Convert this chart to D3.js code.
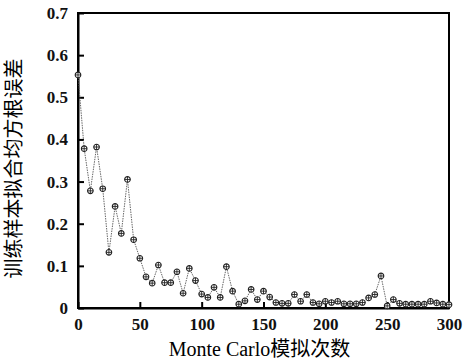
<!DOCTYPE html>
<html>
<head>
<meta charset="utf-8">
<script src="https://cdn.jsdelivr.net/npm/d3@7"></script>
<style>
  body { margin: 0; background: #fff; }
  svg { display: block; }
</style>
</head>
<body>
<svg width="468" height="362"></svg>
<script>
// Monte Carlo run index (every 5 runs) and training RMSE
var runs = [0, 5, 10, 15, 20, 25, 30, 35, 40, 45, 50, 55, 60, 65, 70, 75, 80, 85, 90, 95,
            100, 105, 110, 115, 120, 125, 130, 135, 140, 145, 150, 155, 160, 165, 170, 175, 180, 185, 190, 195,
            200, 205, 210, 215, 220, 225, 230, 235, 240, 245, 250, 255, 260, 265, 270, 275, 280, 285, 290, 295, 300];
var rmse = [0.553, 0.378, 0.278, 0.382, 0.283, 0.132, 0.241, 0.177, 0.305, 0.162,
            0.118, 0.074, 0.059, 0.102, 0.060, 0.060, 0.086, 0.035, 0.094, 0.065,
            0.033, 0.025, 0.049, 0.025, 0.098, 0.040, 0.009, 0.017, 0.044, 0.020,
            0.040, 0.026, 0.013, 0.011, 0.011, 0.032, 0.016, 0.032, 0.013, 0.010,
            0.016, 0.013, 0.016, 0.010, 0.010, 0.010, 0.013, 0.024, 0.032, 0.076,
            0.005, 0.020, 0.011, 0.009, 0.009, 0.009, 0.009, 0.016, 0.012, 0.009, 0.008];
var xTicks = [0, 50, 100, 150, 200, 250, 300];
var yTicks = [0, 0.1, 0.2, 0.3, 0.4, 0.5, 0.6, 0.7];

var svg = d3.select("svg"),
    margin = {top: 13, right: 19, bottom: 54, left: 78},
    width = 468 - margin.left - margin.right,
    height = 362 - margin.top - margin.bottom;

var serif = "'Liberation Serif', 'Times New Roman', 'Noto Sans CJK SC', serif";

var x = d3.scaleLinear().domain([0, 300]).range([0, width]);
var y = d3.scaleLinear().domain([0, 0.7]).range([height, 0]);

var g = svg.append("g")
    .attr("transform", "translate(" + margin.left + "," + margin.top + ")");

// frame
g.append("rect")
    .attr("width", width)
    .attr("height", height)
    .attr("fill", "none")
    .attr("stroke", "#000")
    .attr("stroke-width", 2);

var xAxis = g.append("g")
    .attr("transform", "translate(0," + height + ")")
    .call(d3.axisBottom(x).tickValues(xTicks).tickSizeInner(-6).tickSizeOuter(0).tickPadding(10)
      .tickFormat(d3.format("d")));

var yAxis = g.append("g")
    .call(d3.axisLeft(y).tickValues(yTicks).tickSizeInner(-6).tickSizeOuter(0).tickPadding(10)
      .tickFormat(function(d) { return d === 0 ? "0" : d3.format(".1f")(d); }));

[xAxis, yAxis].forEach(function(a) {
  a.select(".domain").attr("stroke-width", 2);
  a.selectAll(".tick line").attr("stroke-width", 2);
  a.selectAll("text")
      .attr("font-family", serif)
      .attr("font-size", 17)
      .attr("font-weight", "bold")
      .attr("fill", "#111");
});

var line = d3.line()
    .x(function(d, i) { return x(runs[i]); })
    .y(function(d) { return y(d); });

g.append("path")
    .datum(rmse)
    .attr("fill", "none")
    .attr("stroke", "#555")
    .attr("stroke-width", 0.9)
    .attr("stroke-dasharray", "1.5,1")
    .attr("d", line);

var marker = g.append("g")
  .selectAll("g")
  .data(rmse)
  .enter().append("g")
    .attr("transform", function(d, i) { return "translate(" + x(runs[i]) + "," + y(d) + ")"; });

marker.append("circle")
    .attr("r", 2.8)
    .attr("fill", "#fff")
    .attr("stroke", "#222")
    .attr("stroke-width", 1.1);

marker.append("path")
    .attr("d", "M-2.8,0H2.8M0,-2.8V2.8")
    .attr("stroke", "#222")
    .attr("stroke-width", 0.9);

// axis titles
svg.append("text")
    .attr("x", margin.left + width / 2 - 4)
    .attr("y", 356)
    .attr("text-anchor", "middle")
    .attr("font-family", serif)
    .attr("font-size", 20)
    .attr("fill", "#000")
    .text("Monte Carlo模拟次数");

svg.append("text")
    .attr("transform", "translate(21," + (margin.top + height / 2 + 8) + ") rotate(-90)")
    .attr("text-anchor", "middle")
    .attr("font-family", serif)
    .attr("font-size", 20)
    .attr("fill", "#000")
    .text("训练样本拟合均方根误差");
</script>
</body>
</html>
